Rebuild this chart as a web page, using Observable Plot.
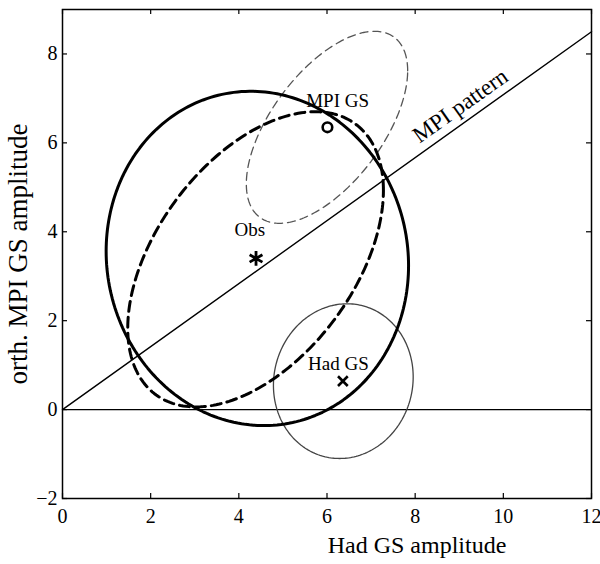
<!DOCTYPE html>
<html><head><meta charset="utf-8">
<script src="https://cdn.jsdelivr.net/npm/d3@7"></script>
<script src="https://cdn.jsdelivr.net/npm/@observablehq/plot@0.6"></script>
<style>body{margin:0;background:#fff}</style>
</head><body><div id="chart"></div>
<script>
// ---- data ----
const xTicks = [0, 2, 4, 6, 8, 10, 12];
const yTicks = [-2, 0, 2, 4, 6, 8];
const xLabel = "Had GS amplitude";
const yLabel = "orth. MPI GS amplitude";

// estimates (markers)
const pointNames = ["Obs", "MPI GS", "Had GS"];
const pointX = [4.39, 6.01, 6.36];
const pointY = [3.40, 6.35, 0.64];

// annotation texts
const labelText = ["Obs", "MPI GS", "Had GS"];
const labelX = [4.25, 6.24, 6.26];
const labelY = [3.90, 6.80, 0.89];

// MPI pattern direction (end point at x = 12)
const patternX = [0, 12];
const patternY = [0, 8.5];
const patternLabel = {text: "MPI pattern", x: 9.12, y: 6.70};

// confidence ellipses: centre, half-extents in x and y, correlation
const ellipseIds = ["obsSolid", "obsDashed", "mpi", "had"];
const ellipseCx = [4.42, 4.38, 6.00, 6.37];
const ellipseCy = [3.40, 3.38, 6.35, 0.64];
const ellipseSx = [3.43, 2.90, 1.83, 1.585];
const ellipseSy = [3.76, 3.32, 2.16, 1.74];
const ellipseR = [-0.043, 0.467, 0.589, 0.054];

// ---- build tables ----
const points = pointNames.map((n, i) => ({name: n, x: pointX[i], y: pointY[i]}));
const labels = labelText.map((t, i) => ({text: t, x: labelX[i], y: labelY[i]}));
const pattern = patternX.map((x, i) => ({x, y: patternY[i]}));

function ellipsePath(i) {
  const sx = ellipseSx[i], sy = ellipseSy[i], r = ellipseR[i];
  const l11 = sx, l21 = r * sy, l22 = sy * Math.sqrt(1 - r * r);
  return d3.range(0, 241).map(k => {
    const t = k / 240 * 2 * Math.PI;
    return {x: ellipseCx[i] + l11 * Math.cos(t), y: ellipseCy[i] + l21 * Math.cos(t) + l22 * Math.sin(t)};
  });
}
const ell = Object.fromEntries(ellipseIds.map((id, i) => [id, ellipsePath(i)]));

// ---- styles ----
const W = 600, H = 564, mL = 62, mR = 9, mT = 9, mB = 66;
const innerW = W - mL - mR, innerH = H - mT - mB;
const tickLen = 5;
const serif = "'Liberation Serif', 'Times New Roman', serif";
const fmt = d => d < 0 ? "\u2212" + Math.abs(d) : String(d);

const chart = Plot.plot({
  width: W, height: H,
  marginLeft: mL, marginRight: mR, marginTop: mT, marginBottom: mB,
  x: {domain: [0, 12], axis: null},
  y: {domain: [-2, 9], axis: null},
  style: {fontFamily: serif, fontSize: "19px", color: "black", background: "white"},
  marks: [
    Plot.ruleY([0], {stroke: "black", strokeWidth: 1.4}),
    Plot.line(pattern, {x: "x", y: "y", stroke: "black", strokeWidth: 1.4}),
    Plot.line(ell.had, {x: "x", y: "y", stroke: "#444", strokeWidth: 1.3}),
    Plot.line(ell.mpi, {x: "x", y: "y", stroke: "#555", strokeWidth: 1.3, strokeDasharray: "8,5"}),
    Plot.line(ell.obsSolid, {x: "x", y: "y", stroke: "black", strokeWidth: 3}),
    Plot.line(ell.obsDashed, {x: "x", y: "y", stroke: "black", strokeWidth: 3, strokeDasharray: "10,6"}),
    Plot.dot(points.filter(d => d.name === "Obs"), {x: "x", y: "y", symbol: "asterisk", r: 7, stroke: "black", strokeWidth: 2.8}),
    Plot.dot(points.filter(d => d.name === "MPI GS"), {x: "x", y: "y", symbol: "circle", r: 4.8, stroke: "black", fill: "none", strokeWidth: 2.6}),
    Plot.dot(points.filter(d => d.name === "Had GS"), {x: "x", y: "y", symbol: "times", r: 4.5, stroke: "black", strokeWidth: 2.6}),
    Plot.text(labels, {x: "x", y: "y", text: "text", textAnchor: "middle", lineAnchor: "bottom", fontSize: 19, fill: "black"}),
    Plot.text([patternLabel], {x: "x", y: "y", text: "text", rotate: -35.4, textAnchor: "middle", lineAnchor: "bottom", fontSize: 23, fill: "black"}),
    // inward ticks on all four sides
    Plot.tickX(xTicks, {x: d => d, insetTop: innerH - tickLen, stroke: "black", strokeWidth: 1.2}),
    Plot.tickX(xTicks, {x: d => d, insetBottom: innerH - tickLen, stroke: "black", strokeWidth: 1.2}),
    Plot.tickY(yTicks, {y: d => d, insetRight: innerW - tickLen, stroke: "black", strokeWidth: 1.2}),
    Plot.tickY(yTicks, {y: d => d, insetLeft: innerW - tickLen, stroke: "black", strokeWidth: 1.2}),
    // tick labels
    Plot.text(xTicks, {x: d => d, frameAnchor: "bottom", text: fmt, dy: 10, lineAnchor: "top", textAnchor: "middle", fontSize: 20, fill: "black"}),
    Plot.text(yTicks, {y: d => d, frameAnchor: "left", text: fmt, dx: -5, lineAnchor: "middle", textAnchor: "end", fontSize: 20, fill: "black"}),
    Plot.frame({stroke: "black", strokeWidth: 1.5}),
    Plot.text([xLabel], {frameAnchor: "bottom", text: d => d, dx: 90, dy: 54, lineAnchor: "bottom", textAnchor: "middle", fontSize: 24, fill: "black"}),
    Plot.text([yLabel], {frameAnchor: "left", text: d => d, rotate: -90, dx: -36, dy: 0, lineAnchor: "bottom", textAnchor: "middle", fontSize: 27, fill: "black"})
  ]
});
document.getElementById("chart").appendChild(chart);
</script>
</body></html>
